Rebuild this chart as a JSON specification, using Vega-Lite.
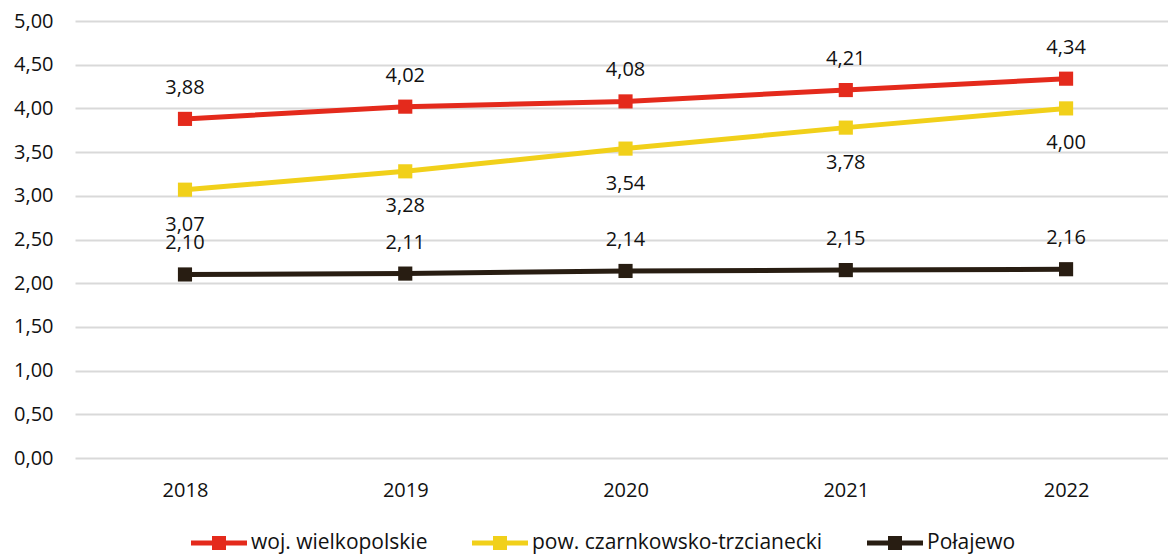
{
  "$schema": "https://vega.github.io/schema/vega-lite/v6.json",
  "width": 1093,
  "height": 437,
  "autosize": {"type": "none"},
  "padding": {"left": 75, "top": 21, "right": 0, "bottom": 96},
  "background": "white",
  "config": {
    "locale": {"number": {"decimal": ",", "thousands": " ", "grouping": [3], "currency": ["", " zł"]}},
    "view": {"stroke": null},
    "font": "Open Sans",
    "axis": {"labelFont": "Open Sans", "labelFontSize": 20, "labelColor": "#111111"},
    "legend": {"labelFont": "Open Sans", "labelFontSize": 21, "labelColor": "#111111", "labelLimit": 500}
  },
  "data": {
    "values": [
      {"year": "2018", "series": "woj. wielkopolskie", "value": 3.88},
      {"year": "2019", "series": "woj. wielkopolskie", "value": 4.02},
      {"year": "2020", "series": "woj. wielkopolskie", "value": 4.08},
      {"year": "2021", "series": "woj. wielkopolskie", "value": 4.21},
      {"year": "2022", "series": "woj. wielkopolskie", "value": 4.34},
      {"year": "2018", "series": "pow. czarnkowsko-trzcianecki", "value": 3.07},
      {"year": "2019", "series": "pow. czarnkowsko-trzcianecki", "value": 3.28},
      {"year": "2020", "series": "pow. czarnkowsko-trzcianecki", "value": 3.54},
      {"year": "2021", "series": "pow. czarnkowsko-trzcianecki", "value": 3.78},
      {"year": "2022", "series": "pow. czarnkowsko-trzcianecki", "value": 4.00},
      {"year": "2018", "series": "Połajewo", "value": 2.10},
      {"year": "2019", "series": "Połajewo", "value": 2.11},
      {"year": "2020", "series": "Połajewo", "value": 2.14},
      {"year": "2021", "series": "Połajewo", "value": 2.15},
      {"year": "2022", "series": "Połajewo", "value": 2.16}
    ]
  },
  "encoding": {
    "x": {
      "field": "year", "type": "ordinal",
      "scale": {"type": "point", "padding": 0.481, "align": 0.519},
      "axis": {"title": null, "domain": false, "ticks": false, "labelAngle": 0, "labelPadding": 22, "grid": false}
    },
    "y": {
      "field": "value", "type": "quantitative",
      "scale": {"domain": [0, 5], "nice": false, "zero": true},
      "axis": {
        "title": null, "domain": false, "ticks": false, "format": ".2f",
        "values": [0, 0.5, 1, 1.5, 2, 2.5, 3, 3.5, 4, 4.5, 5],
        "gridColor": "#d9d9d9", "gridWidth": 2, "labelPadding": 22
      }
    }
  },
  "layer": [
    {
      "mark": {"type": "line", "strokeWidth": 5},
      "encoding": {
        "color": {
          "field": "series", "type": "nominal",
          "scale": {
            "domain": ["woj. wielkopolskie", "pow. czarnkowsko-trzcianecki", "Połajewo"],
            "range": ["#e42a1c", "#f1d01a", "#281d12"]
          },
          "legend": {
            "title": null,
            "orient": "none",
            "direction": "horizontal",
            "legendX": 116,
            "legendY": 494,
            "symbolType": "M-1,-0.09H1V0.09H-1Z M-0.25,-0.25H0.25V0.25H-0.25Z",
            "symbolSize": 3136,
            "symbolStrokeWidth": 0,
            "symbolOpacity": 1,
            "labelOffset": 4,
            "labelLimit": 500,
            "columnPadding": 44,
            "labelFontSize": 21,
            "encode": {
              "symbols": {
                "update": {
                  "fill": {"scale": "color", "field": "value"},
                  "stroke": {"value": "transparent"},
                  "strokeWidth": {"value": 0}
                }
              }
            }
          }
        }
      }
    },
    {
      "mark": {"type": "point", "shape": "square", "filled": true, "opacity": 1, "size": 200},
      "encoding": {
        "color": {"field": "series", "type": "nominal"}
      }
    },
    {
      "transform": [{"filter": "datum.series !== 'pow. czarnkowsko-trzcianecki'"}],
      "mark": {"type": "text", "dy": -31, "fontSize": 20, "color": "#111111", "baseline": "middle"},
      "encoding": {
        "text": {"field": "value", "type": "quantitative", "format": ".2f"}
      }
    },
    {
      "transform": [{"filter": "datum.series === 'pow. czarnkowsko-trzcianecki'"}],
      "mark": {"type": "text", "dy": 35, "fontSize": 20, "color": "#111111", "baseline": "middle"},
      "encoding": {
        "text": {"field": "value", "type": "quantitative", "format": ".2f"}
      }
    }
  ]
}
